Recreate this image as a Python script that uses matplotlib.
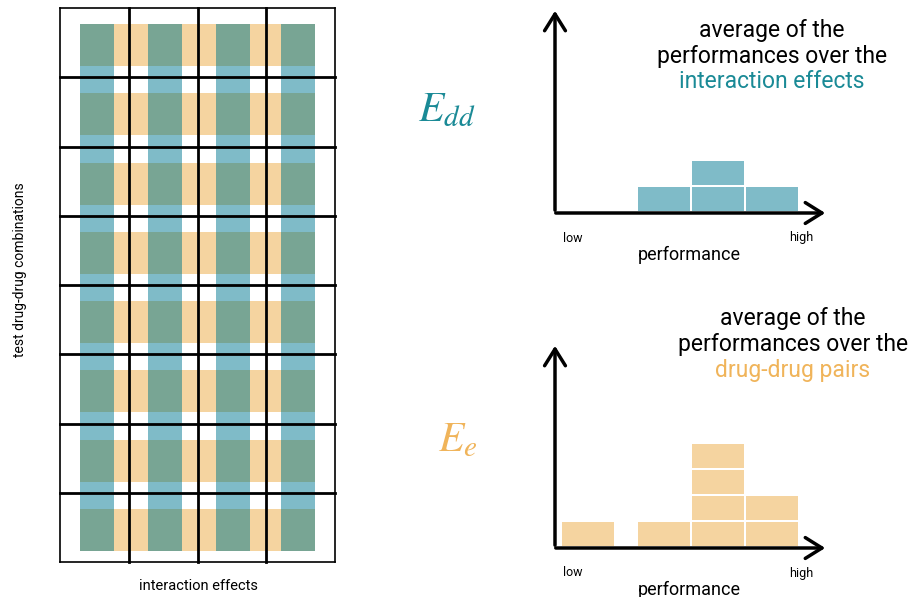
import matplotlib.pyplot as plt
from matplotlib.patches import Rectangle, FancyArrowPatch

plt.rcParams['font.family'] = ['Roboto', 'DejaVu Sans']
plt.rcParams['mathtext.fontset'] = 'stix'

# grid of test combinations x interaction effects
n_rows = 8
n_cols = 4

# histogram of performances (bin left edge in px, count)
edd_bins = [638, 692, 746]
edd_counts = [1, 2, 1]
ee_bins = [562, 638, 692, 746]
ee_counts = [1, 1, 4, 2]

orange = '#F5D4A0'
blue = '#7FBBC8'
green = '#78A594'
teal_txt = '#1A8A96'
orange_txt = '#F0B45A'

fig = plt.figure(figsize=(9.16, 5.97), dpi=100)
ax = fig.add_axes([0, 0, 1, 1])
ax.set_xlim(0, 916)
ax.set_ylim(597, 0)
ax.axis('off')

# left grid
gx0, gx1, gy0, gy1 = 60, 335, 8, 562
cw = (gx1 - gx0) / n_cols
rh = (gy1 - gy0) / n_rows
col_left = [80, 148, 216, 281]
for c in range(n_cols):
    ax.add_patch(Rectangle((col_left[c], 24), 34, 524, color=blue, lw=0, zorder=1))
for r in range(n_rows):
    top = gy0 + r * rh
    ax.add_patch(Rectangle((80, top + 16), 235, 42, color=orange, lw=0, zorder=2))
    for c in range(n_cols):
        ax.add_patch(Rectangle((col_left[c], top + 16), 34, 42, color=green, lw=0, zorder=2.5))
for r in range(n_rows + 1):
    ax.plot([gx0, gx1], [gy0 + r * rh] * 2, color='black', lw=2 if 0 < r < n_rows else 1.2, zorder=3)
for c in range(n_cols + 1):
    ax.plot([gx0 + c * cw] * 2, [gy0, gy1], color='black', lw=2 if 0 < c < n_cols else 1.2, zorder=3)
ax.text(20, 270, 'test drug-drug combinations', rotation=90, ha='center', va='center', fontsize=10)
ax.text(198, 586, 'interaction effects', ha='center', va='center', fontsize=10.5)


def hist(base, bins, counts, col):
    ax.add_patch(FancyArrowPatch((555, base), (555, base - 205), arrowstyle='->,head_width=5,head_length=8',
                                 lw=2.5, color='black', mutation_scale=1.5))
    ax.add_patch(FancyArrowPatch((553, base), (828, base), arrowstyle='->,head_width=5,head_length=8',
                                 lw=2.5, color='black', mutation_scale=1.5))
    for left, n in zip(bins, counts):
        for k in range(n):
            ax.add_patch(Rectangle((left, base - 2 - 26 * (k + 1) + 2), 52, 24, color=col, lw=0))
    ax.text(573, base + 25, 'low', ha='center', va='center', fontsize=9)
    ax.text(801, base + 25, 'high', ha='center', va='center', fontsize=9)
    ax.text(689, base + 42, 'performance', ha='center', va='center', fontsize=13)


hist(213, edd_bins, edd_counts, blue)
hist(548, ee_bins, ee_counts, orange)

fs = 16.5
ax.text(772, 30, 'average of the', ha='center', va='center', fontsize=fs)
ax.text(772, 56, 'performances over the', ha='center', va='center', fontsize=fs)
ax.text(772, 81, 'interaction effects', ha='center', va='center', fontsize=fs, color=teal_txt)
ax.text(793, 319, 'average of the', ha='center', va='center', fontsize=fs)
ax.text(793, 344, 'performances over the', ha='center', va='center', fontsize=fs)
ax.text(793, 370, 'drug-drug pairs', ha='center', va='center', fontsize=fs, color=orange_txt)

ax.text(447, 110, r'$E_{dd}$', ha='center', va='center', fontsize=30, color=teal_txt)
ax.text(458, 440, r'$E_{e}$', ha='center', va='center', fontsize=30, color=orange_txt)

fig.savefig('out.png', dpi=100)
